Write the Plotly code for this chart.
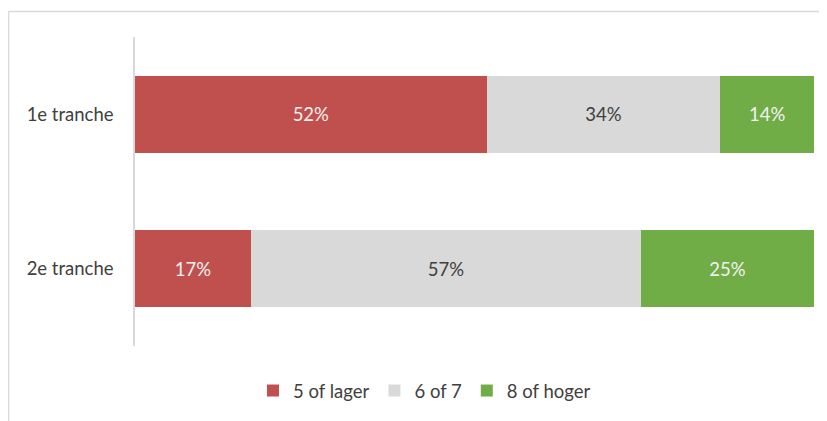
import plotly.graph_objects as go

categories = ["1e tranche", "2e tranche"]
series_names = ["5 of lager", "6 of 7", "8 of hoger"]
low_vals = [51.8, 17.1]
mid_vals = [34.4, 57.4]
high_vals = [13.8, 25.5]
low_labels = ["52%", "17%"]
mid_labels = ["34%", "57%"]
high_labels = ["14%", "25%"]

colors = ["#c0504d", "#d9d9d9", "#70ad47"]
text_colors = ["#f2f2f2", "#404040", "#f2f2f2"]
FONT = "Lato"
FS = 18.5

fig = go.Figure()
for name, vals, labels, col, tcol in zip(
    series_names,
    [low_vals, mid_vals, high_vals],
    [low_labels, mid_labels, high_labels],
    colors, text_colors,
):
    fig.add_trace(go.Bar(
        y=categories, x=vals, name=name, orientation="h",
        marker=dict(color=col, line=dict(width=0)),
        text=labels, textposition="inside", insidetextanchor="middle",
        textfont=dict(family=FONT, size=FS, color=tcol),
        constraintext="none", hoverinfo="skip",
    ))

# page body has an 8px margin, so the figure is drawn 8px smaller
OFF = 8
W, H = 827 - OFF, 421 - OFF
ml, mr, mt, mb = 135 - OFF, 13, 37 - OFF, 74
pw, ph = W - ml - mr, H - mt - mb

def px_x(p):
    return (p - OFF - ml) / pw

def px_y(p):
    return (H - mb - (p - OFF)) / ph

fig.update_layout(
    width=W, height=H,
    margin=dict(l=ml, r=mr, t=mt, b=mb),
    barmode="stack", bargap=0.5,
    paper_bgcolor="white", plot_bgcolor="white",
    font=dict(family=FONT, size=FS, color="#404040"),
    xaxis=dict(range=[0, 100], visible=False, fixedrange=True),
    yaxis=dict(autorange="reversed", showline=True, linecolor="#d9d9d9",
               linewidth=1.5, showgrid=False, ticks="", ticklabelstandoff=16,
               tickfont=dict(family=FONT, size=FS, color="#404040")),
    showlegend=True,
    legend=dict(orientation="h", x=px_x(253), xanchor="left",
                y=px_y(391), yanchor="middle",
                font=dict(family=FONT, size=FS, color="#404040"),
                itemwidth=30, traceorder="normal"),
    shapes=[
        dict(type="line", xref="paper", yref="paper",
             x0=px_x(8.5), x1=px_x(840), y0=px_y(11.5), y1=px_y(11.5),
             line=dict(color="#d9d9d9", width=1.5)),
        dict(type="line", xref="paper", yref="paper",
             x0=px_x(8.5), x1=px_x(8.5), y0=px_y(11.5), y1=px_y(440),
             line=dict(color="#d9d9d9", width=1.5)),
    ],
)

fig.write_html("out.html")
